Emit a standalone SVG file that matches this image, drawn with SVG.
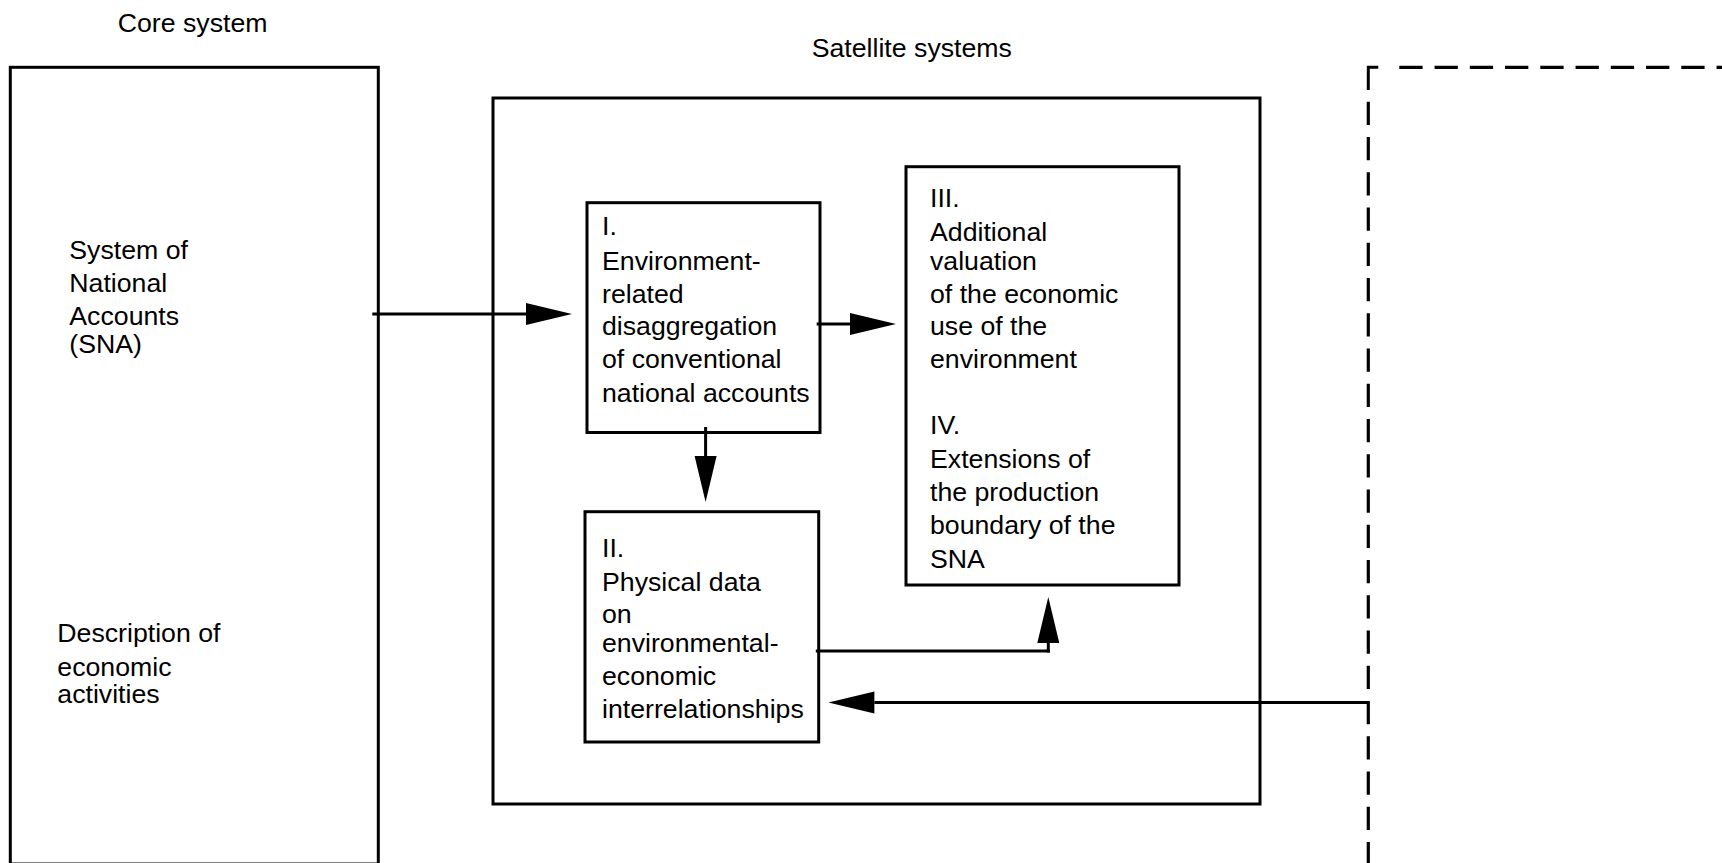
<svg xmlns="http://www.w3.org/2000/svg" width="1722" height="863" viewBox="0 0 1722 863">
<defs>
<style>
.box{fill:none;stroke:#000;stroke-width:3}
.dash{fill:none;stroke:#000;stroke-width:3.2;stroke-dasharray:23.3 11.95}
.conn{fill:none;stroke:#000;stroke-width:3;stroke-linecap:butt}
text{font-family:"Liberation Sans",Arial,Helvetica,sans-serif;font-size:26.7px;fill:#000}
</style>
<marker id="ah" markerUnits="userSpaceOnUse" markerWidth="48" markerHeight="24" refX="0" refY="11" orient="auto" overflow="visible">
<path d="M0,0 L46,11 L0,22 Z" fill="#000"/>
</marker>
</defs>
<rect width="1722" height="863" fill="#fff"/>

<g id="core-system">
<text x="117.7" y="32.3">Core system</text>
<rect class="box" x="10.3" y="67.3" width="368" height="796.7"/>
<text x="69.3" y="259.3">System of</text>
<text x="69.3" y="292.3">National</text>
<text x="69.3" y="325">Accounts</text>
<text x="69.3" y="353.3">(SNA)</text>
<text x="57.3" y="641.7">Description of</text>
<text x="57.3" y="676">economic</text>
<text x="57.3" y="703">activities</text>
</g>

<g id="satellite-systems">
<text x="811.7" y="56.7">Satellite systems</text>
<rect class="box" x="493" y="98" width="767" height="706"/>
</g>

<g id="environment-box">
<path class="box" d="M1378.3,67.3 H1368.3 V90"/>
<path class="dash" d="M1399.3,67.3 H1740"/>
<path class="dash" d="M1368.3,101.7 V880"/>
</g>

<g id="node-I">
<rect class="box" x="587" y="202.7" width="233" height="229.8"/>
<text x="602" y="235">I.</text>
<text x="602" y="270">Environment-</text>
<text x="602" y="303.3">related</text>
<text x="602" y="335">disaggregation</text>
<text x="602" y="368.3">of conventional</text>
<text x="602" y="401.7">national accounts</text>
</g>

<g id="node-II">
<rect class="box" x="585" y="511.7" width="233.7" height="230.3"/>
<text x="602" y="556.7">II.</text>
<text x="602" y="590.7">Physical data</text>
<text x="602" y="623.3">on</text>
<text x="602" y="651.7">environmental-</text>
<text x="602" y="685">economic</text>
<text x="602" y="717.7">interrelationships</text>
</g>

<g id="node-III-IV">
<rect class="box" x="906" y="166.7" width="273" height="418.3"/>
<text x="930" y="207.3">III.</text>
<text x="930" y="240.7">Additional</text>
<text x="930" y="270">valuation</text>
<text x="930" y="302.7">of the economic</text>
<text x="930" y="335">use of the</text>
<text x="930" y="368.3">environment</text>
<text x="930" y="434">IV.</text>
<text x="930" y="468.3">Extensions of</text>
<text x="930" y="501">the production</text>
<text x="930" y="534.3">boundary of the</text>
<text x="930" y="567.7">SNA</text>
</g>

<g id="connectors">
<path class="conn" d="M372.3,314 H526" marker-end="url(#ah)"/>
<path class="conn" d="M816.7,324 H850" marker-end="url(#ah)"/>
<path class="conn" d="M705.6,427 V456" marker-end="url(#ah)"/>
<path class="conn" d="M815.8,651 H1050"/>
<path class="conn" d="M1048.3,652.5 V643" marker-end="url(#ah)"/>
<path class="conn" d="M1368.3,702.5 H874.4" marker-end="url(#ah)"/>
</g>
</svg>
